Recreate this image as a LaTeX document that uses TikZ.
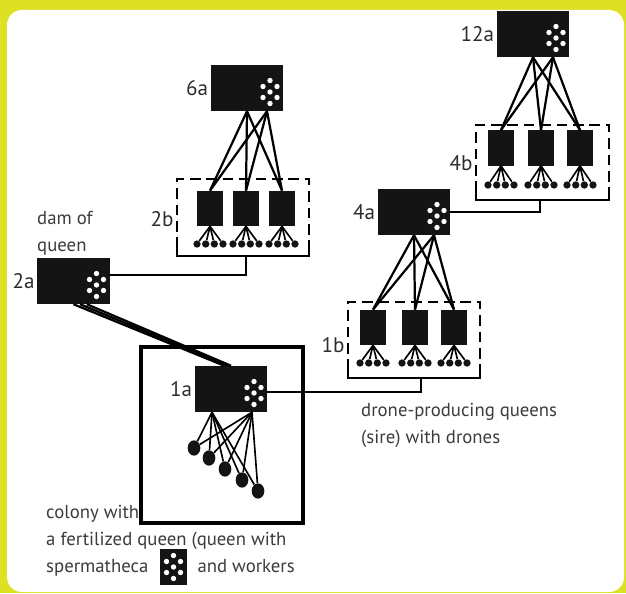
\documentclass[tikz,border=0pt]{standalone}
\usepackage{fontspec}
\setmainfont{PT Sans}
\usetikzlibrary{positioning,shapes.geometric}

\definecolor{frameyellow}{RGB}{221,225,36}
\definecolor{labelgray}{RGB}{45,45,45}
\definecolor{notegray}{RGB}{60,60,60}

% white dots of the spermatheca, centred at (#1,#2)
\newcommand{\spermdots}[2]{%
  \foreach \dx/\dy in {0/-11.5,-7/-5.5,7/-5.5,0/0,-7/5.5,7/5.5,0/11.5}
    \fill[white] ({#1+\dx},{#2+\dy}) circle (2.7);
}

\tikzset{
  queen/.style={fill=black!92, inner sep=0pt, minimum width=2.16cm, minimum height=1.38cm},
  sister/.style={fill=black!92, inner sep=0pt, minimum width=0.8cm, minimum height=1.06cm},
  drone/.style={circle, fill=black!92, inner sep=0pt, minimum size=0.22cm},
  worker/.style={ellipse, fill=black!92, inner sep=0pt, minimum width=0.38cm, minimum height=0.46cm},
  lab/.style={text=labelgray, inner sep=1pt, font=\fontsize{18}{20}\selectfont},
  note/.style={text=notegray, inner sep=0pt, align=left, font=\fontsize{16}{23}\selectfont},
  link/.style={line width=1.9pt},
  fan/.style={line width=1.4pt},
  groupbox/.style={line width=2.4pt, dash pattern=on 9pt off 5pt},
  bracket/.style={line width=2.4pt}
}

\begin{document}
\begin{tikzpicture}[x=0.03cm, y=-0.03cm]
  \useasboundingbox (0,0) rectangle (626,593);

  % frame
  \fill[frameyellow] (0,0) rectangle (626,593);
  \fill[white, rounded corners=0.45cm] (7,10) rectangle (624,592);

  % queens
  \node[queen] (Queen12a) at (533,34)  {};
  \node[queen] (Queen6a)  at (247,88)  {};
  \node[queen] (Queen4a)  at (414,212) {};
  \node[queen] (Queen2a)  at (73.5,281) {};
  \node[queen] (Queen1a)  at (231,389) {};
  \spermdots{556}{38}
  \spermdots{270}{92}
  \spermdots{437}{216}
  \spermdots{96.5}{285}
  \spermdots{254}{393}

  \node[lab, left=1pt of Queen12a] (Lab12a) {12a};
  \node[lab, left=1pt of Queen6a]  (Lab6a)  {6a};
  \node[lab, left=1pt of Queen4a]  (Lab4a)  {4a};
  \node[lab, left=1pt of Queen2a]  (Lab2a)  {2a};
  \node[lab, left=1pt of Queen1a]  (Lab1a)  {1a};

  % sister queens with their drones
  \foreach \i/\cx in {1/210,2/246,3/282} {
    \node[sister] (Sis2b\i) at (\cx,208.5) {};
    \foreach \j/\dx in {1/-13,2/-4.3,3/4.3,4/13} {
      \node[drone] (Dr2b\i\j) at ({\cx+\dx},244) {};
      \draw[fan] (Sis2b\i.south) -- (Dr2b\i\j);
    }
  }
  \foreach \i/\cx in {1/501,2/541,3/580} {
    \node[sister] (Sis4b\i) at (\cx,148) {};
    \foreach \j/\dx in {1/-13,2/-4.3,3/4.3,4/13} {
      \node[drone] (Dr4b\i\j) at ({\cx+\dx},185) {};
      \draw[fan] (Sis4b\i.south) -- (Dr4b\i\j);
    }
  }
  \foreach \i/\cx in {1/373,2/415,3/454} {
    \node[sister] (Sis1b\i) at (\cx,327.5) {};
    \foreach \j/\dx in {1/-13,2/-4.3,3/4.3,4/13} {
      \node[drone] (Dr1b\i\j) at ({\cx+\dx},363) {};
      \draw[fan] (Sis1b\i.south) -- (Dr1b\i\j);
    }
  }

  % dashed groups, solid bottoms
  \draw[groupbox] (177,248) -- (177,179) -- (309,179) -- (309,248);
  \draw[bracket]  (177,248) -- (177,256) -- (309,256) -- (309,248);
  \draw[groupbox] (476,192) -- (476,125) -- (609,125) -- (609,192);
  \draw[bracket]  (476,192) -- (476,200) -- (609,200) -- (609,192);
  \draw[groupbox] (348,370) -- (348,302) -- (480,302) -- (480,370);
  \draw[bracket]  (348,370) -- (348,378) -- (480,378) -- (480,370);
  \coordinate (Base2b) at (246,256);
  \coordinate (Base4b) at (540,200);
  \coordinate (Base1b) at (421,378);

  \node[lab, anchor=east] (Lab2b) at (175,219) {2b};
  \node[lab, anchor=east] (Lab4b) at (474,163) {4b};
  \node[lab, anchor=east] (Lab1b) at (346,345) {1b};

  % queen to sisters
  \foreach \s in {0,0.6} {
    \foreach \i in {1,2,3} {
      \draw[link] ([xshift=\s cm]Queen6a.south)  -- (Sis2b\i.north);
      \draw[link] ([xshift=\s cm]Queen12a.south) -- (Sis4b\i.north);
      \draw[link] ([xshift=\s cm]Queen4a.south)  -- (Sis1b\i.north);
    }
  }

  % groups to queens
  \draw[link] ([yshift=0.18cm]Queen2a.east) -| (Base2b);
  \draw[link] (Queen4a.east) -| (Base4b);
  \draw[link] ([yshift=-0.1cm]Queen1a.east) -| (Base1b);

  % dam to colony queen
  \draw[link] ([xshift=0cm]Queen2a.south)    -- ([xshift=-0.2cm]Queen1a.north);
  \draw[link] ([xshift=0.2cm]Queen2a.south)  -- ([xshift=-0.1cm]Queen1a.north);
  \draw[link] ([xshift=0.4cm]Queen2a.south)  -- (Queen1a.north);

  % colony with workers
  \draw[line width=2.6pt] (141,347) rectangle (303,523);
  \foreach \j/\wx/\wy in {1/194/448,2/209/458,3/225/469,4/242/480,5/258/491} {
    \node[worker] (Work\j) at (\wx,\wy) {};
    \draw[fan] ([xshift=-0.57cm]Queen1a.south) -- (Work\j);
    \draw[fan] ([xshift=0.63cm]Queen1a.south) -- (Work\j);
  }

  % notes
  \node[note, anchor=west] (DamNote) at (37,233) {dam of\\queen};
  \node[note, anchor=west] (SireNote) at (361,425.5) {drone-producing queens\\(sire) with drones};
  \node[note, anchor=west] (ColonyNote) at (46,541)
    {colony with\\a fertilized queen (queen with\\spermatheca\hspace*{42pt}and workers};
  \node[fill=black!92, inner sep=0pt, minimum width=0.8cm, minimum height=1.06cm] (Icon) at (173.5,567) {};
  \spermdots{173.5}{567}
\end{tikzpicture}
\end{document}
